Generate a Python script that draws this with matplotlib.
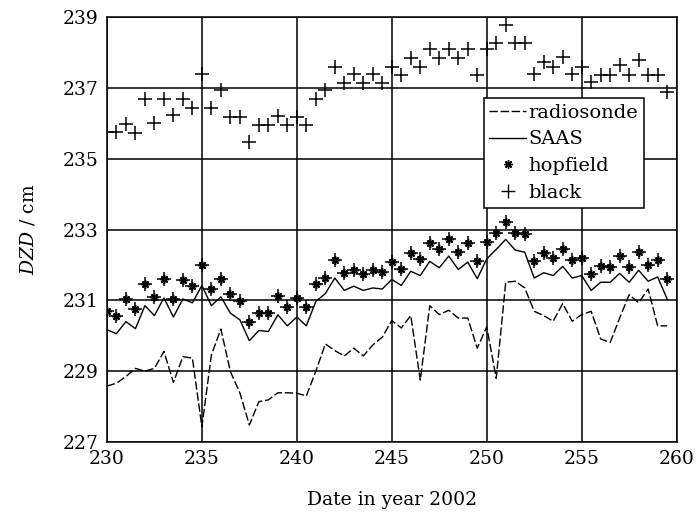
import numpy as np
import matplotlib
matplotlib.use('Agg')
import matplotlib.pyplot as plt
from matplotlib.lines import Line2D

plt.rcParams['font.family'] = 'DejaVu Serif'
plt.rcParams['mathtext.fontset'] = 'dejavuserif'

# day of year 2002, sampled twice a day
days = np.arange(230, 260, 0.5)

radiosonde = [228.58, 228.66, 228.85, 229.08, 229.00, 229.08, 229.56, 228.68, 229.41, 229.37,
              227.43, 229.46, 230.19, 228.99, 228.39, 227.48, 228.14, 228.19, 228.39, 228.39,
              228.38, 228.30, 229.00, 229.77, 229.58, 229.43, 229.65, 229.43, 229.74, 229.96,
              230.43, 230.22, 230.57, 228.75, 230.85, 230.60, 230.72, 230.50, 230.50, 229.65,
              230.25, 228.80, 231.51, 231.54, 231.35, 230.69, 230.57, 230.41, 230.91, 230.41,
              230.60, 230.69, 229.91, 229.81, 230.50, 231.16, 230.93, 231.32, 230.28, 230.28]

saas = [230.17, 230.06, 230.40, 230.20, 230.85, 230.57, 231.07, 230.53, 231.04, 230.93,
        231.42, 230.85, 231.10, 230.64, 230.45, 229.86, 230.15, 230.12, 230.59, 230.28,
        230.53, 230.28, 230.97, 231.19, 231.63, 231.28, 231.40, 231.28, 231.35, 231.32,
        231.59, 231.42, 231.82, 231.70, 232.10, 231.92, 232.25, 231.87, 232.08, 231.61,
        232.17, 232.44, 232.72, 232.42, 232.36, 231.63, 231.78, 231.70, 231.96, 231.63,
        231.70, 231.28, 231.51, 231.51, 231.76, 231.51, 231.85, 231.54, 231.66, 231.04]

hopfield = [230.69, 230.55, 231.04, 230.75, 231.47, 231.10, 231.61, 231.04, 231.57, 231.40,
            232.01, 231.32, 231.61, 231.18, 230.97, 230.38, 230.64, 230.64, 231.13, 230.81,
            231.07, 230.81, 231.47, 231.63, 232.13, 231.76, 231.85, 231.73, 231.85, 231.79,
            232.08, 231.89, 232.34, 232.17, 232.61, 232.46, 232.74, 232.36, 232.61, 232.10,
            232.64, 232.91, 233.21, 232.91, 232.86, 232.10, 232.34, 232.20, 232.46, 232.13,
            232.20, 231.73, 231.98, 231.93, 232.25, 231.93, 232.36, 232.01, 232.13, 231.59]

black = [235.74, 235.74, 235.98, 235.72, 236.67, 236.00, 236.67, 236.22, 236.68, 236.42,
         237.38, 236.42, 236.94, 236.19, 236.19, 235.48, 235.95, 235.95, 236.20, 235.95,
         236.19, 235.95, 236.68, 236.94, 237.60, 237.13, 237.39, 237.13, 237.39, 237.13,
         237.60, 237.36, 237.85, 237.60, 238.09, 237.83, 238.09, 237.83, 238.09, 237.36,
         238.09, 238.27, 238.77, 238.26, 238.26, 237.39, 237.74, 237.58, 237.88, 237.39,
         237.58, 237.17, 237.36, 237.36, 237.64, 237.36, 237.79, 237.36, 237.36, 236.89]

fig = plt.figure(figsize=(6.99, 5.14), dpi=100)
ax = fig.add_axes([0.153, 0.14, 0.815, 0.827])

l1, = ax.plot(days, radiosonde, color='black', lw=1, dashes=(6, 2))
l2, = ax.plot(days, saas, color='black', lw=1)
ax.plot(days, hopfield, ls='none', marker='+', ms=10, mew=1.1, color='black')
ax.plot(days, hopfield, ls='none', marker=(8, 2, 0), ms=6, mew=1.1, color='black')
ax.plot(days, black, ls='none', marker='+', ms=10, mew=1.1, color='black')

ax.set_xlim(230, 260)
ax.set_ylim(227, 239)
ax.set_xticks(range(230, 261, 5))
ax.set_yticks(range(227, 240, 2))
ax.grid(True, color='black', lw=1.1)
ax.tick_params(length=0, labelsize=13.5, pad=6)
for s in ax.spines.values():
    s.set_linewidth(1.1)

ax.set_xlabel('Date in year 2002', fontsize=13.5, labelpad=16)
ax.set_ylabel(r'$\mathit{DZD}$ / cm', fontsize=13.5, labelpad=18)

h_hop = Line2D([], [], ls='none', marker=(8, 2, 0), ms=6, mew=1, color='black')
h_blk = Line2D([], [], ls='none', marker='+', ms=10, mew=1, color='black')
leg = ax.legend([l1, l2, h_hop, h_blk],
                ['radiosonde', 'SAAS', 'hopfield', 'black'],
                loc='upper left', bbox_to_anchor=(0.661, 0.81), borderaxespad=0,
                fontsize=14, handlelength=1.9, handletextpad=0.1, borderpad=0.3,
                labelspacing=0.45, fancybox=False, framealpha=1, edgecolor='black')
leg.get_frame().set_linewidth(1.1)

plt.savefig('out.png', dpi=100)
